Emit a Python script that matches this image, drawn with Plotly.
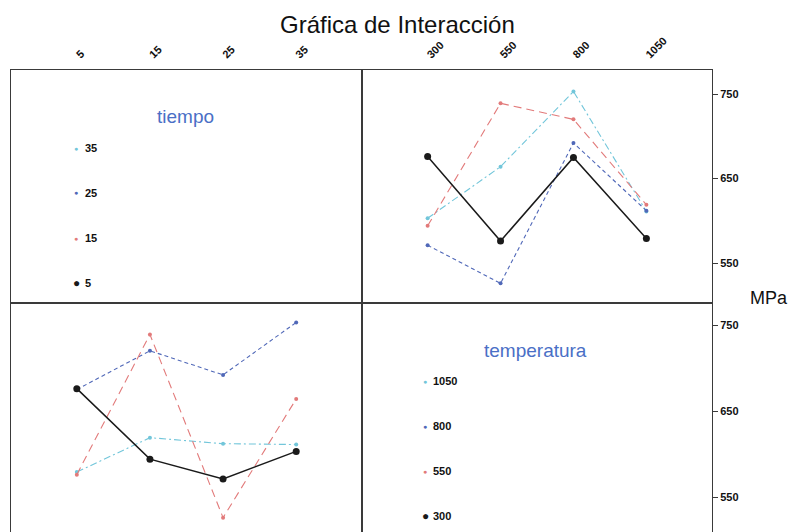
import plotly.graph_objects as go

# ---- data (cell means, MPa) ----
tiempo = ["5", "15", "25", "35"]
temperatura = ["300", "550", "800", "1050"]
# MPa for each temperatura, across tiempo 5, 15, 25, 35
mpa_300 = [676, 594, 571, 603]
mpa_550 = [576, 739, 526, 664]
mpa_800 = [675, 720, 692, 753]
mpa_1050 = [579, 619, 612, 611]
y_ticks = [550, 650, 750]

by_temp = [mpa_300, mpa_550, mpa_800, mpa_1050]
by_tiempo = [[row[i] for row in by_temp] for i in range(len(tiempo))]

colors = ["#1a1a1a", "#e27a7a", "#5068b8", "#72c6da"]
dashes = ["solid", "8px,5px", "4px,3px", "7px,3px,2px,3px"]
widths = [1.5, 1.1, 1.1, 1.1]
msize = [7, 4, 4, 4]

fig = go.Figure()

# empty panels (still need axes rendered)
fig.add_trace(go.Scatter(x=tiempo, y=[None] * 4, mode="markers", xaxis="x", yaxis="y",
                         showlegend=False, hoverinfo="skip"))
fig.add_trace(go.Scatter(x=temperatura, y=[None] * 4, mode="markers", xaxis="x4", yaxis="y4",
                         showlegend=False, hoverinfo="skip"))

# top-right: x = temperatura, one line per tiempo
for i in [3, 2, 1, 0]:
    fig.add_trace(go.Scatter(
        x=temperatura, y=by_tiempo[i], mode="lines+markers",
        line=dict(color=colors[i], dash=dashes[i], width=widths[i]),
        marker=dict(color=colors[i], size=msize[i]),
        xaxis="x2", yaxis="y2", showlegend=False, name=tiempo[i]))

# bottom-left: x = tiempo, one line per temperatura
for i in [3, 2, 1, 0]:
    fig.add_trace(go.Scatter(
        x=tiempo, y=by_temp[i], mode="lines+markers",
        line=dict(color=colors[i], dash=dashes[i], width=widths[i]),
        marker=dict(color=colors[i], size=msize[i]),
        xaxis="x3", yaxis="y3", showlegend=False, name=temperatura[i]))

W, H = 789, 532
xl = [11 / W, 362 / W]
xr = [362 / W, 712 / W]
yt = [1 - 303 / H, 1 - 70 / H]
yb = [0, 1 - 303 / H]
top_range = [502.7, 778.4]
bot_range = [509.3, 775.6]
xrange_ = [-0.9, 3.9]

line_c = "#3a3a3a"
tickfont = dict(family="Liberation Sans", size=11, color="#111111", weight="bold")
base_x = dict(showline=True, mirror=True, linecolor=line_c, linewidth=1,
              showgrid=False, zeroline=False, range=xrange_, type="category")
base_y = dict(showline=True, mirror=True, linecolor=line_c, linewidth=1,
              showgrid=False, zeroline=False)

fig.update_layout(
    width=W, height=H,
    margin=dict(l=0, r=0, t=0, b=0),
    paper_bgcolor="white", plot_bgcolor="white",
    font=dict(family="Liberation Sans"),
    xaxis=dict(base_x, domain=xl, anchor="y", side="top",
               tickmode="array", tickvals=tiempo, ticktext=tiempo,
               tickangle=-45, tickfont=tickfont, ticks="", ticklabelstandoff=4),
    yaxis=dict(base_y, domain=yt, anchor="x", range=top_range,
               showticklabels=False, ticks=""),
    xaxis2=dict(base_x, domain=xr, anchor="y2", side="top",
                tickmode="array", tickvals=temperatura, ticktext=temperatura,
                tickangle=-45, tickfont=tickfont, ticks="", ticklabelstandoff=4),
    yaxis2=dict(base_y, domain=yt, anchor="x2", side="right", range=top_range,
                tickmode="array", tickvals=y_ticks, ticks="outside",
                ticklen=5, tickcolor=line_c, tickfont=tickfont),
    xaxis3=dict(base_x, domain=xl, anchor="y3", showticklabels=False, ticks=""),
    yaxis3=dict(base_y, domain=yb, anchor="x3", range=bot_range,
                showticklabels=False, ticks=""),
    xaxis4=dict(base_x, domain=xr, anchor="y4", showticklabels=False, ticks=""),
    yaxis4=dict(base_y, domain=yb, anchor="x4", side="right", range=bot_range,
                tickmode="array", tickvals=y_ticks, ticks="outside",
                ticklen=5, tickcolor=line_c, tickfont=tickfont),
)


def note(text, px, py, size, color="#111111", xanchor="center", bold=False):
    return dict(text=text, x=px / W, y=1 - py / H, xref="paper", yref="paper",
                showarrow=False, xanchor=xanchor, yanchor="middle",
                font=dict(family="Liberation Sans", size=size, color=color,
                          weight="bold" if bold else "normal"))


ann = []
ann.append(note("Gráfica de Interacción", 398, 24, 24))
ann.append(note("MPa", 769, 298, 18))

legend_blue = "#4a6fc6"
# tiempo legend (top-left)
ann.append(note("tiempo", 185, 116, 19, legend_blue))
leg_y1 = [148, 193, 238, 283]
for k, i in enumerate([3, 2, 1, 0]):
    sz = 12 if i == 0 else 7
    ann.append(note(f"<span style='color:{colors[i]}'>●</span>", 76, leg_y1[k], sz))
    ann.append(note(tiempo[i], 83, leg_y1[k], 11, xanchor="left", bold=True))

# temperatura legend (bottom-right)
ann.append(note("temperatura", 535, 350, 19, legend_blue))
leg_y2 = [381, 426, 471, 516]
for k, i in enumerate([3, 2, 1, 0]):
    sz = 12 if i == 0 else 7
    ann.append(note(f"<span style='color:{colors[i]}'>●</span>", 425, leg_y2[k], sz))
    ann.append(note(temperatura[i], 431, leg_y2[k], 11, xanchor="left", bold=True))

fig.update_layout(annotations=ann)
fig.write_html("out.html")
